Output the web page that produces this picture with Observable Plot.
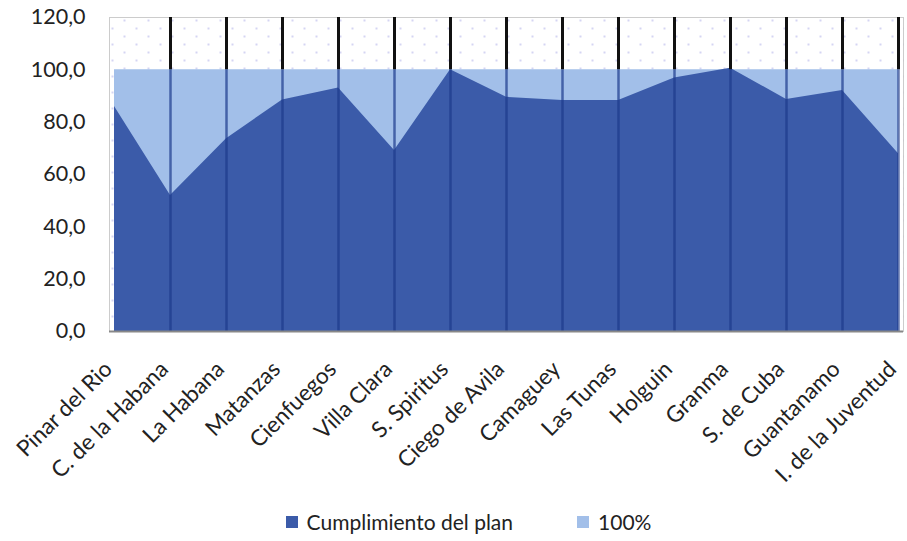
<!DOCTYPE html>
<html>
<head>
<meta charset="utf-8">
<script src="https://cdn.jsdelivr.net/npm/d3@7"></script>
<script src="https://cdn.jsdelivr.net/npm/@observablehq/plot@0.6"></script>
<style>
  body { margin: 0; background: #fff; font-family: Lato, "Open Sans", sans-serif; }
  #chart { width: 907px; height: 492px; }
  .legend { display: flex; justify-content: center; align-items: center; font-size: 21px; color: #222; margin-top: 18px; padding-left: 30px; line-height: 24px; }
  .legend .item { display: flex; align-items: center; margin: 0 32px; }
  .legend .sw { width: 12px; height: 12px; margin-right: 9px; display: inline-block; }
</style>
</head>
<body>
<div id="chart"></div>
<script>
const regions = ["Pinar del Rio", "C. de la Habana", "La Habana", "Matanzas", "Cienfuegos", "Villa Clara", "S. Spiritus", "Ciego de Avila", "Camaguey", "Las Tunas", "Holguin", "Granma", "S. de Cuba", "Guantanamo", "I. de la Juventud"];
const cumplimiento = [86.0, 52.0, 73.7, 88.5, 93.1, 69.2, 100.0, 89.5, 88.3, 88.3, 96.9, 100.6, 88.7, 92.1, 67.9];
const meta = [100, 100, 100, 100, 100, 100, 100, 100, 100, 100, 100, 100, 100, 100, 100];
const yTicks = [0, 20, 40, 60, 80, 100, 120];
const seriesNames = ["Cumplimiento del plan", "100%"];
const colors = ["#3b5ba9", "#a2bfe9"];

const data = regions.map((r, i) => ({region: r, plan: cumplimiento[i], meta: meta[i]}));
const ruleData = regions.slice(1);

const chart = Plot.plot({
  width: 907,
  height: 492,
  marginLeft: 109,
  marginRight: 4,
  marginTop: 17,
  marginBottom: 161,
  style: {fontFamily: "Lato, 'Open Sans', sans-serif", fontSize: "21px", color: "#222", overflow: "visible"},
  x: {type: "point", domain: regions, padding: 0, label: null},
  y: {domain: [0, 120], label: null},
  marks: [
    Plot.frame({fill: "url(#dots)", stroke: "#999", strokeDasharray: "1,1"}),
    Plot.areaY(data, {x: "region", y: "meta", fill: colors[1]}),
    Plot.areaY(data, {x: "region", y: "plan", fill: colors[0]}),
    Plot.ruleX(ruleData, {x: d => d, y1: 100, y2: 120, stroke: "#111", strokeWidth: 3}),
    Plot.ruleX(ruleData, {x: d => d, y1: 0, y2: 100, stroke: "#1d3a8c", strokeWidth: 2.5, strokeOpacity: 0.7}),
    Plot.ruleY([0], {stroke: "#888", strokeWidth: 2}),
    Plot.axisY({ticks: yTicks, tickSize: 0, tickPadding: 24, tickFormat: d => d.toFixed(1).replace(".", ","), fontSize: 21.5}),
    Plot.axisX({tickSize: 0, tickRotate: -45, tickPadding: 34, dx: -6, fontSize: 22.5})
  ]
});
const ns = "http://www.w3.org/2000/svg";
const defs = document.createElementNS(ns, "defs");
defs.innerHTML = '<pattern id="dots" width="24" height="16" patternUnits="userSpaceOnUse"><rect width="24" height="16" fill="#fff"/><circle cx="4" cy="4" r="1" fill="#c8c8f0"/><circle cx="16" cy="12" r="1" fill="#c8c8f0"/></pattern>';
chart.insertBefore(defs, chart.firstChild);
document.getElementById("chart").appendChild(chart);

const legend = document.createElement("div");
legend.className = "legend";
seriesNames.forEach((name, i) => {
  const item = document.createElement("span");
  item.className = "item";
  const sw = document.createElement("span");
  sw.className = "sw";
  sw.style.background = colors[i];
  item.appendChild(sw);
  item.appendChild(document.createTextNode(name));
  legend.appendChild(item);
});
document.body.appendChild(legend);
</script>
</body>
</html>
